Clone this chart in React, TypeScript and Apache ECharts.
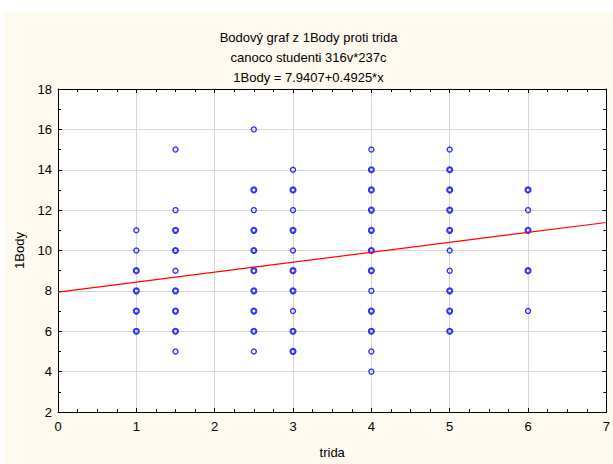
import React, { useEffect, useRef } from "react";
import * as echarts from "echarts";

const titleLines = ["Bodový graf z 1Body proti trida", "canoco studenti 316v*237c", "1Body = 7.9407+0.4925*x"];
const xName = "trida";
const yName = "1Body";

// class positions on the x axis
const xClasses = [1, 1.5, 2.5, 3, 4, 5, 6];
// y values seen once at each class
const singleY = [
  [11, 10],
  [15, 12, 9, 5],
  [16, 12, 5],
  [14, 12, 10, 7],
  [15, 8, 5, 4],
  [15, 10, 9],
  [12, 7],
];
// y values drawn several times (overlapping, bolder)
const repeatedY = [
  [9, 8, 7, 6],
  [11, 10, 8, 7, 6],
  [13, 11, 10, 9, 8, 7, 6],
  [13, 11, 9, 8, 6, 5],
  [14, 13, 12, 11, 10, 9, 7, 6],
  [14, 13, 12, 11, 8, 7, 6],
  [13, 11, 9],
];
const intercept = 7.9407;
const slope = 0.4925;
const xRange = [0, 7];

const FONT = "'Liberation Sans', Arial, sans-serif";

export default function App() {
  const ref = useRef<HTMLDivElement>(null);
  useEffect(() => {
    document.body.style.margin = "0";
    if (!ref.current) return;
    const chart = echarts.init(ref.current, null, { renderer: "svg" });
    const singles: number[][] = [];
    const repeats: number[][] = [];
    xClasses.forEach((x, i) => {
      singleY[i].forEach((y) => singles.push([x, y]));
      repeatedY[i].forEach((y) => repeats.push([x, y]));
    });
    const fit = xRange.map((x) => [x, intercept + slope * x]);
    const axisCommon = {
      axisLine: { show: true, onZero: false, lineStyle: { color: "#000", width: 1 } },
      axisTick: { show: true, inside: true, length: 4, lineStyle: { color: "#000" } },
      minorTick: { show: true, length: 3, lineStyle: { color: "#000" } },
      axisLabel: { color: "#000", fontSize: 13, fontFamily: FONT },
    };
    chart.setOption({
      animation: false,
      backgroundColor: "#fefaef",
      textStyle: { fontFamily: FONT },
      title: {
        text: titleLines.join("\n"),
        left: "center",
        top: 10,
        textStyle: { fontSize: 13, fontWeight: "normal", color: "#000", lineHeight: 20, fontFamily: FONT },
      },
      grid: { left: 54, top: 77, width: 552, height: 328, backgroundColor: "#fff", show: true, borderWidth: 0 },
      xAxis: [
        {
          ...axisCommon,
          type: "value",
          min: 0,
          max: 7,
          interval: 1,
          minorTick: { ...axisCommon.minorTick, splitNumber: 4 },
          axisLabel: { ...axisCommon.axisLabel, margin: 8 },
          splitLine: { show: true, lineStyle: { color: "#d6d6d6", width: 1 } },
          name: xName,
          nameLocation: "middle",
          nameGap: 34,
          nameTextStyle: { color: "#000", fontSize: 13, fontFamily: FONT },
        },
        {
          ...axisCommon,
          type: "value",
          position: "top",
          min: 0,
          max: 7,
          interval: 1,
          minorTick: { ...axisCommon.minorTick, splitNumber: 4 },
          axisLabel: { show: false },
          splitLine: { show: false },
        },
      ],
      yAxis: [
        {
          ...axisCommon,
          type: "value",
          min: 2,
          max: 18,
          interval: 2,
          minorTick: { ...axisCommon.minorTick, splitNumber: 2 },
          axisLabel: { ...axisCommon.axisLabel, margin: 6 },
          splitLine: { show: true, lineStyle: { color: "#d6d6d6", width: 1 } },
          name: yName,
          nameLocation: "middle",
          nameGap: 32,
          nameRotate: 90,
          nameTextStyle: { color: "#000", fontSize: 13, fontFamily: FONT },
        },
        {
          ...axisCommon,
          type: "value",
          position: "right",
          min: 2,
          max: 18,
          interval: 2,
          minorTick: { ...axisCommon.minorTick, splitNumber: 2 },
          axisLabel: { show: false },
          splitLine: { show: false },
        },
      ],
      series: [
        {
          type: "scatter",
          data: singles,
          symbol: "circle",
          symbolSize: 5,
          itemStyle: { color: "rgba(0,0,0,0)", borderColor: "#0000ff", borderWidth: 1.4 },
          silent: true,
        },
        {
          type: "scatter",
          data: repeats,
          symbol: "circle",
          symbolSize: 5,
          itemStyle: { color: "rgba(0,0,0,0)", borderColor: "#0000ff", borderWidth: 2.1 },
          silent: true,
        },
        {
          type: "line",
          data: fit,
          showSymbol: false,
          symbol: "none",
          lineStyle: { color: "#ff0000", width: 1.2 },
          silent: true,
        },
      ],
    });
    return () => chart.dispose();
  }, []);
  return (
    <div style={{ position: "relative", width: 613, height: 464, background: "#fff" }}>
      <div ref={ref} style={{ position: "absolute", left: 4, top: 12, width: 609, height: 452 }} />
    </div>
  );
}
